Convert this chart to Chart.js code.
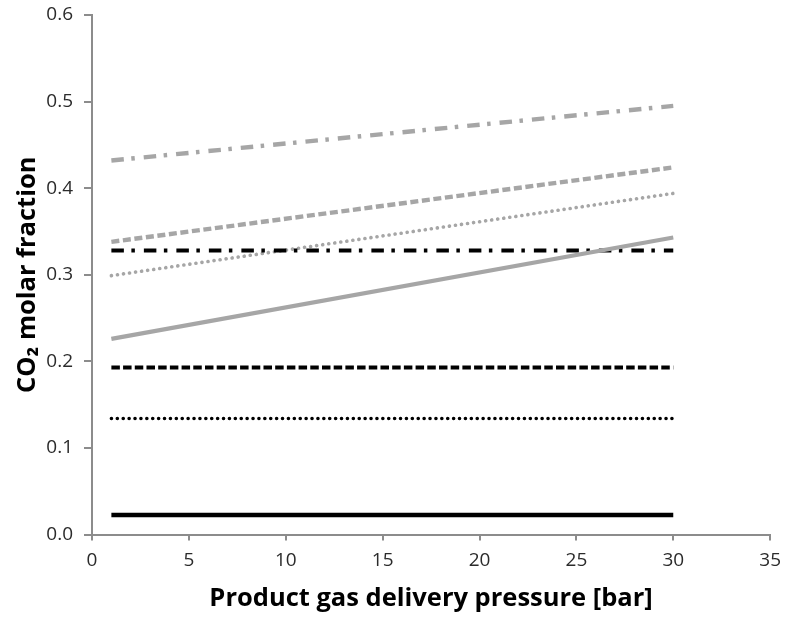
<!DOCTYPE html>
<html>
<head>
<meta charset="utf-8">
<script src="https://cdn.jsdelivr.net/npm/chart.js@4/dist/chart.umd.min.js"></script>
<style>
  html, body { margin: 0; padding: 0; background: #fff; }
  #wrap { width: 790px; height: 617px; position: relative; }
</style>
</head>
<body>
<div id="wrap"><canvas id="c"></canvas></div>
<script>
// Product gas delivery pressure [bar] at the two ends of each curve
const pressure = [1, 30];

// CO2 molar fraction, grey curves (rise with pressure)
const greyDashDot = [0.432, 0.495];
const greyDashed  = [0.338, 0.424];
const greyDotted  = [0.299, 0.394];
const greySolid   = [0.226, 0.343];

// CO2 molar fraction, black curves (independent of pressure)
const blackDashDot = [0.328, 0.328];
const blackDashed  = [0.193, 0.193];
const blackDotted  = [0.134, 0.134];
const blackSolid   = [0.0225, 0.0225];

// Axis ticks
const xTicks = [0, 5, 10, 15, 20, 25, 30, 35];
const yTicks = [0.0, 0.1, 0.2, 0.3, 0.4, 0.5, 0.6];

const GREY = '#a6a6a6';
const BLACK = '#000000';
const AXIS = '#8c8c8c';

const pts = ys => pressure.map((x, i) => ({ x: x, y: ys[i] }));

function line(ys, color, width, dash, cap) {
  return {
    data: pts(ys),
    borderColor: color,
    backgroundColor: color,
    borderWidth: width,
    borderDash: dash,
    borderCapStyle: cap || 'butt',
    pointRadius: 0,
    showLine: true,
    fill: false,
    tension: 0
  };
}

const datasets = [
  line(blackSolid,   BLACK, 4.5, []),
  line(blackDotted,  BLACK, 3.5, [0.1, 5.8], 'round'),
  line(blackDashed,  BLACK, 4, [8.5, 3.2]),
  line(greySolid,    GREY, 4.2, []),
  line(blackDashDot, BLACK, 4, [12.5, 7.5, 3.5, 9]),
  line(greyDotted,   GREY, 3.6, [0.1, 6], 'round'),
  line(greyDashed,   GREY, 4.4, [8, 3.6]),
  line(greyDashDot,  GREY, 4.4, [12.5, 7.5, 3.5, 9])
];

// A small lineHeight keeps the y labels from pushing the plot area down
const xTickFont = { family: '"Open Sans", sans-serif', size: 19 };
const yTickFont = { family: '"Open Sans", sans-serif', size: 19, lineHeight: 0.2 };
const titleFont = { family: '"Open Sans", sans-serif', size: 25.5, weight: 'bold' };

new Chart(document.getElementById('c'), {
  type: 'scatter',
  data: { datasets: datasets },
  options: {
    responsive: true,
    maintainAspectRatio: false,
    animation: false,
    layout: { padding: { top: 15, right: 13, bottom: 0, left: 0 } },
    plugins: { legend: { display: false }, tooltip: { enabled: false } },
    scales: {
      x: {
        type: 'linear',
        min: xTicks[0],
        max: xTicks[xTicks.length - 1],
        afterBuildTicks: s => { s.ticks = xTicks.map(v => ({ value: v })); },
        afterFit: s => { s.height = 82.5; },
        border: { display: true, color: AXIS, width: 2 },
        grid: { display: true, drawOnChartArea: false, drawTicks: true, tickLength: 6, color: AXIS, lineWidth: 2 },
        ticks: { color: '#2b2b2b', font: xTickFont, padding: 9, maxRotation: 0, callback: v => String(v) },
        title: { display: true, text: 'Product gas delivery pressure [bar]', color: '#000', font: titleFont, padding: { top: 0, bottom: 3 } }
      },
      y: {
        type: 'linear',
        min: yTicks[0],
        max: yTicks[yTicks.length - 1],
        afterBuildTicks: s => { s.ticks = yTicks.map(v => ({ value: v })); },
        afterFit: s => { s.width = 92; },
        border: { display: true, color: AXIS, width: 2 },
        grid: { display: true, drawOnChartArea: false, drawTicks: true, tickLength: 8, color: AXIS, lineWidth: 2 },
        ticks: { color: '#2b2b2b', font: yTickFont, padding: 11, callback: v => v.toFixed(1) },
        title: { display: true, text: 'CO₂ molar fraction', color: '#000', font: titleFont, padding: { top: 12, bottom: 0 } }
      }
    }
  }
});
</script>
</body>
</html>
